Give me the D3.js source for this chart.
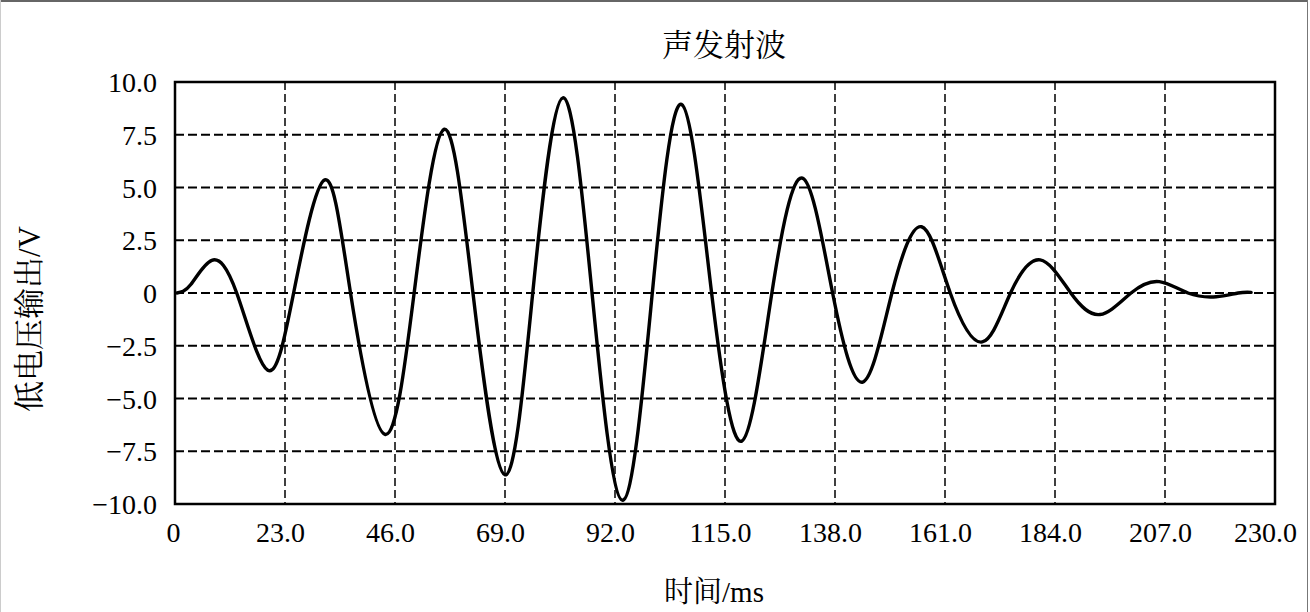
<!DOCTYPE html>
<html><head><meta charset="utf-8">
<script src="https://cdn.jsdelivr.net/npm/d3@7"></script>
<style>html,body{margin:0;padding:0;background:#fff;}svg{display:block;}</style>
</head><body>
<svg id="chart" width="1310" height="612"></svg>
<script>
// ---- data ----
const title = "声发射波";
const xTitle = "时间/ms";
const yTitle = "低电压输出/V";
const xTicks = [0, 23, 46, 69, 92, 115, 138, 161, 184, 207, 230];
const xTickLabels = ["0", "23.0", "46.0", "69.0", "92.0", "115.0", "138.0", "161.0", "184.0", "207.0", "230.0"];
const yTicks = [10, 7.5, 5, 2.5, 0, -2.5, -5, -7.5, -10];
const yTickLabels = ["10.0", "7.5", "5.0", "2.5", "0", "\u22122.5", "\u22125.0", "\u22127.5", "\u221210.0"];
const times = [0.4, 3.3, 7.7, 12.9, 19.4, 24.8, 31.3, 36.7, 43.9, 50.0, 56.3, 62.3, 69.0, 74.8, 81.1, 87.2, 93.6, 99.8, 105.9, 112.2, 118.5, 124.8, 131.2, 137.5, 143.8, 149.9, 156.1, 162.1, 168.8, 174.7, 180.9, 187.3, 193.4, 199.9, 205.8, 211.8, 217.7, 222.3, 225.0];
const volts = [0, 0.4, 1.55, 0, -3.66, 0, 5.36, 0, -6.7, 0, 7.76, 0, -8.62, 0, 9.25, 0, -9.82, 0, 8.94, 0, -7.02, 0, 5.44, 0, -4.22, 0, 3.14, 0, -2.32, 0, 1.57, 0, -1.02, 0, 0.54, 0, -0.18, 0, 0.03];

// ---- layout ----
const W = 1310, H = 612;
const L = 175, R = 1275, T = 82, B = 504;
const svg = d3.select("#chart");
const serif = "'Liberation Serif', 'Times New Roman', 'Noto Serif CJK SC', 'Noto Sans CJK SC', serif";

// page border
svg.append("line").attr("x1", 0).attr("x2", 1308).attr("y1", 1).attr("y2", 1).attr("stroke", "#666").attr("stroke-width", 2);
svg.append("line").attr("x1", 1307.5).attr("x2", 1307.5).attr("y1", 0).attr("y2", H).attr("stroke", "#777").attr("stroke-width", 1);
svg.append("line").attr("x1", 0.5).attr("x2", 0.5).attr("y1", 0).attr("y2", H).attr("stroke", "#ccc").attr("stroke-width", 1);

const x = d3.scaleLinear().domain([0, 230]).range([L, R]);
const y = d3.scaleLinear().domain([-10, 10]).range([B, T]);

// grid
const grid = svg.append("g");
grid.selectAll("line.v").data(xTicks.slice(1, -1)).join("line")
  .attr("x1", d => x(d)).attr("x2", d => x(d)).attr("y1", T).attr("y2", B)
  .attr("stroke", "#000").attr("stroke-width", 1.5).attr("stroke-dasharray", "8,4");
grid.selectAll("line.h").data(yTicks.slice(1, -1)).join("line")
  .attr("x1", L).attr("x2", R).attr("y1", d => y(d)).attr("y2", d => y(d))
  .attr("stroke", "#000").attr("stroke-width", 1.8).attr("stroke-dasharray", "9,4");

// axes (labels only)
const xAxis = d3.axisBottom(x).tickValues(xTicks).tickSize(0).tickPadding(0)
  .tickFormat((d, i) => xTickLabels[i]);
const gx = svg.append("g").attr("transform", `translate(0,${B})`).call(xAxis);
gx.select(".domain").remove();
gx.selectAll("text").attr("font-family", serif).attr("font-size", 28).attr("fill", "#000")
  .attr("dy", null).attr("y", 38).attr("dx", d => d === 0 ? -2 : (d === 230 ? -10 : -5));

const yAxis = d3.axisLeft(y).tickValues(yTicks).tickSize(0).tickPadding(18)
  .tickFormat((d, i) => yTickLabels[i]);
const gy = svg.append("g").attr("transform", `translate(${L},0)`).call(yAxis);
gy.select(".domain").remove();
gy.selectAll("text").attr("font-family", serif).attr("font-size", 28).attr("fill", "#000")
  .attr("dy", "0.34em");

// data line
const pts = times.map((t, i) => [t, volts[i]]);
const line = d3.line().x(d => x(d[0])).y(d => y(d[1])).curve(d3.curveNatural);
svg.append("path").datum(pts).attr("d", line)
  .attr("fill", "none").attr("stroke", "#000").attr("stroke-width", 3.4)
  .attr("stroke-linejoin", "round").attr("stroke-linecap", "round");

// frame
svg.append("rect").attr("x", L).attr("y", T).attr("width", R - L).attr("height", B - T)
  .attr("fill", "none").attr("stroke", "#000").attr("stroke-width", 2.5);

// titles
svg.append("text").attr("x", 724).attr("y", 45).attr("text-anchor", "middle")
  .attr("dominant-baseline", "central").attr("font-family", serif).attr("font-size", 31)
  .attr("fill", "#000").text(title);
svg.append("text").attr("x", 714).attr("y", 592).attr("text-anchor", "middle")
  .attr("dominant-baseline", "central").attr("font-family", serif).attr("font-size", 29)
  .attr("fill", "#000").text(xTitle);
svg.append("text").attr("transform", "translate(29,319) rotate(-90)").attr("text-anchor", "middle")
  .attr("dominant-baseline", "central").attr("font-family", serif).attr("font-size", 31)
  .attr("fill", "#000").text(yTitle);
</script>
</body></html>
